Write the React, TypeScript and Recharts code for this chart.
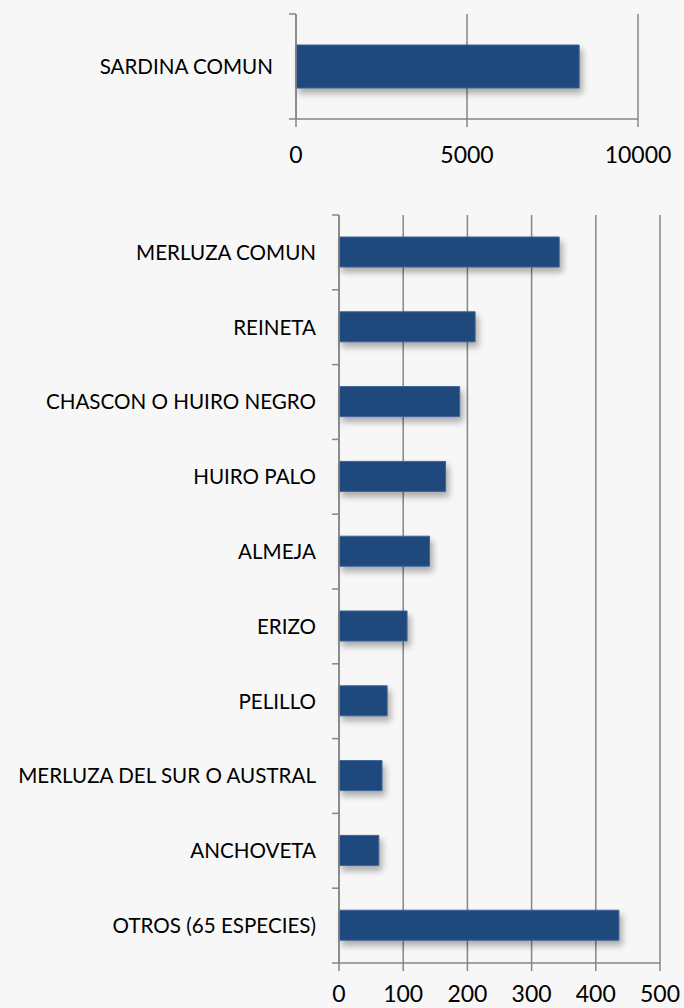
import { BarChart, Bar, XAxis, YAxis, CartesianGrid } from 'recharts';

// volumen por especie (toneladas)
const topSpecies = ['SARDINA COMUN'];
const topValues = [8280];
const topTicks = [0, 5000, 10000];

const species = [
  'MERLUZA COMUN',
  'REINETA',
  'CHASCON O HUIRO NEGRO',
  'HUIRO PALO',
  'ALMEJA',
  'ERIZO',
  'PELILLO',
  'MERLUZA DEL SUR O AUSTRAL',
  'ANCHOVETA',
  'OTROS (65 ESPECIES)',
];
const values = [343, 212, 188, 166, 141, 106, 75, 67, 62, 436];
const bottomTicks = [0, 100, 200, 300, 400, 500];

const topData = topSpecies.map((name, i) => ({ name, value: topValues[i] }));
const bottomData = species.map((name, i) => ({ name, value: values[i] }));

const FONT = "Lato, 'Open Sans', sans-serif";
const AXIS = '#868686';
const BAR = '#1f497d';

// category tick: label + boundary tick marks like Excel
function CategoryTick(props: any) {
  const { x, y, payload, index, half, count } = props;
  return (
    <g>
      <text x={x - 23} y={y} dy="0.36em" textAnchor="end" fontSize={20.6} fontFamily={FONT} fill="#000">
        {payload.value}
      </text>
      <line x1={x - 7} x2={x} y1={y - half} y2={y - half} stroke={AXIS} strokeWidth={1.5} />
      {index === count - 1 && (
        <line x1={x - 7} x2={x} y1={y + half} y2={y + half} stroke={AXIS} strokeWidth={1.5} />
      )}
    </g>
  );
}

const numTick = { fontSize: 23, fontFamily: FONT, fill: '#000' };

export default function App() {
  return (
    <div style={{ position: 'absolute', left: 0, top: 0, width: 684, height: 1008, background: '#f7f7f7' }}>
      <style>{`.recharts-bar-rectangle { filter: drop-shadow(3px 5px 3px rgba(0,0,0,0.3)); }`}</style>
      {/* Sardina */}
      <BarChart width={684} height={190} data={topData} layout="vertical" margin={{ top: 14, right: 46, bottom: 0, left: 0 }}>
        <CartesianGrid horizontal={false} stroke={AXIS} strokeWidth={1.5} />
        <XAxis
          type="number"
          domain={[0, 10000]}
          ticks={topTicks}
          height={71}
          stroke={AXIS}
          strokeWidth={1.5}
          tickSize={8}
          tickMargin={20}
          tick={numTick}
        />
        <YAxis
          type="category"
          dataKey="name"
          width={296}
          stroke={AXIS}
          strokeWidth={1.5}
          tickSize={0}
          tickMargin={0}
          tick={<CategoryTick half={52.5} count={topData.length} />}
        />
        <Bar dataKey="value" fill={BAR} stroke="#3d6399" strokeWidth={1} barSize={43} isAnimationActive={false} />
      </BarChart>

      {/* Resto de especies */}
      <BarChart width={684} height={818} data={bottomData} layout="vertical" margin={{ top: 25, right: 24, bottom: 0, left: 0 }}>
        <CartesianGrid horizontal={false} stroke={AXIS} strokeWidth={1.5} />
        <XAxis
          type="number"
          domain={[0, 500]}
          ticks={bottomTicks}
          height={45}
          stroke={AXIS}
          strokeWidth={1.5}
          tickSize={8}
          tickMargin={15}
          tick={numTick}
        />
        <YAxis
          type="category"
          dataKey="name"
          width={339}
          stroke={AXIS}
          strokeWidth={1.5}
          tickSize={0}
          tickMargin={0}
          interval={0}
          tick={<CategoryTick half={37.4} count={bottomData.length} />}
        />
        <Bar dataKey="value" fill={BAR} stroke="#3d6399" strokeWidth={1} barSize={30} isAnimationActive={false} />
      </BarChart>
    </div>
  );
}
